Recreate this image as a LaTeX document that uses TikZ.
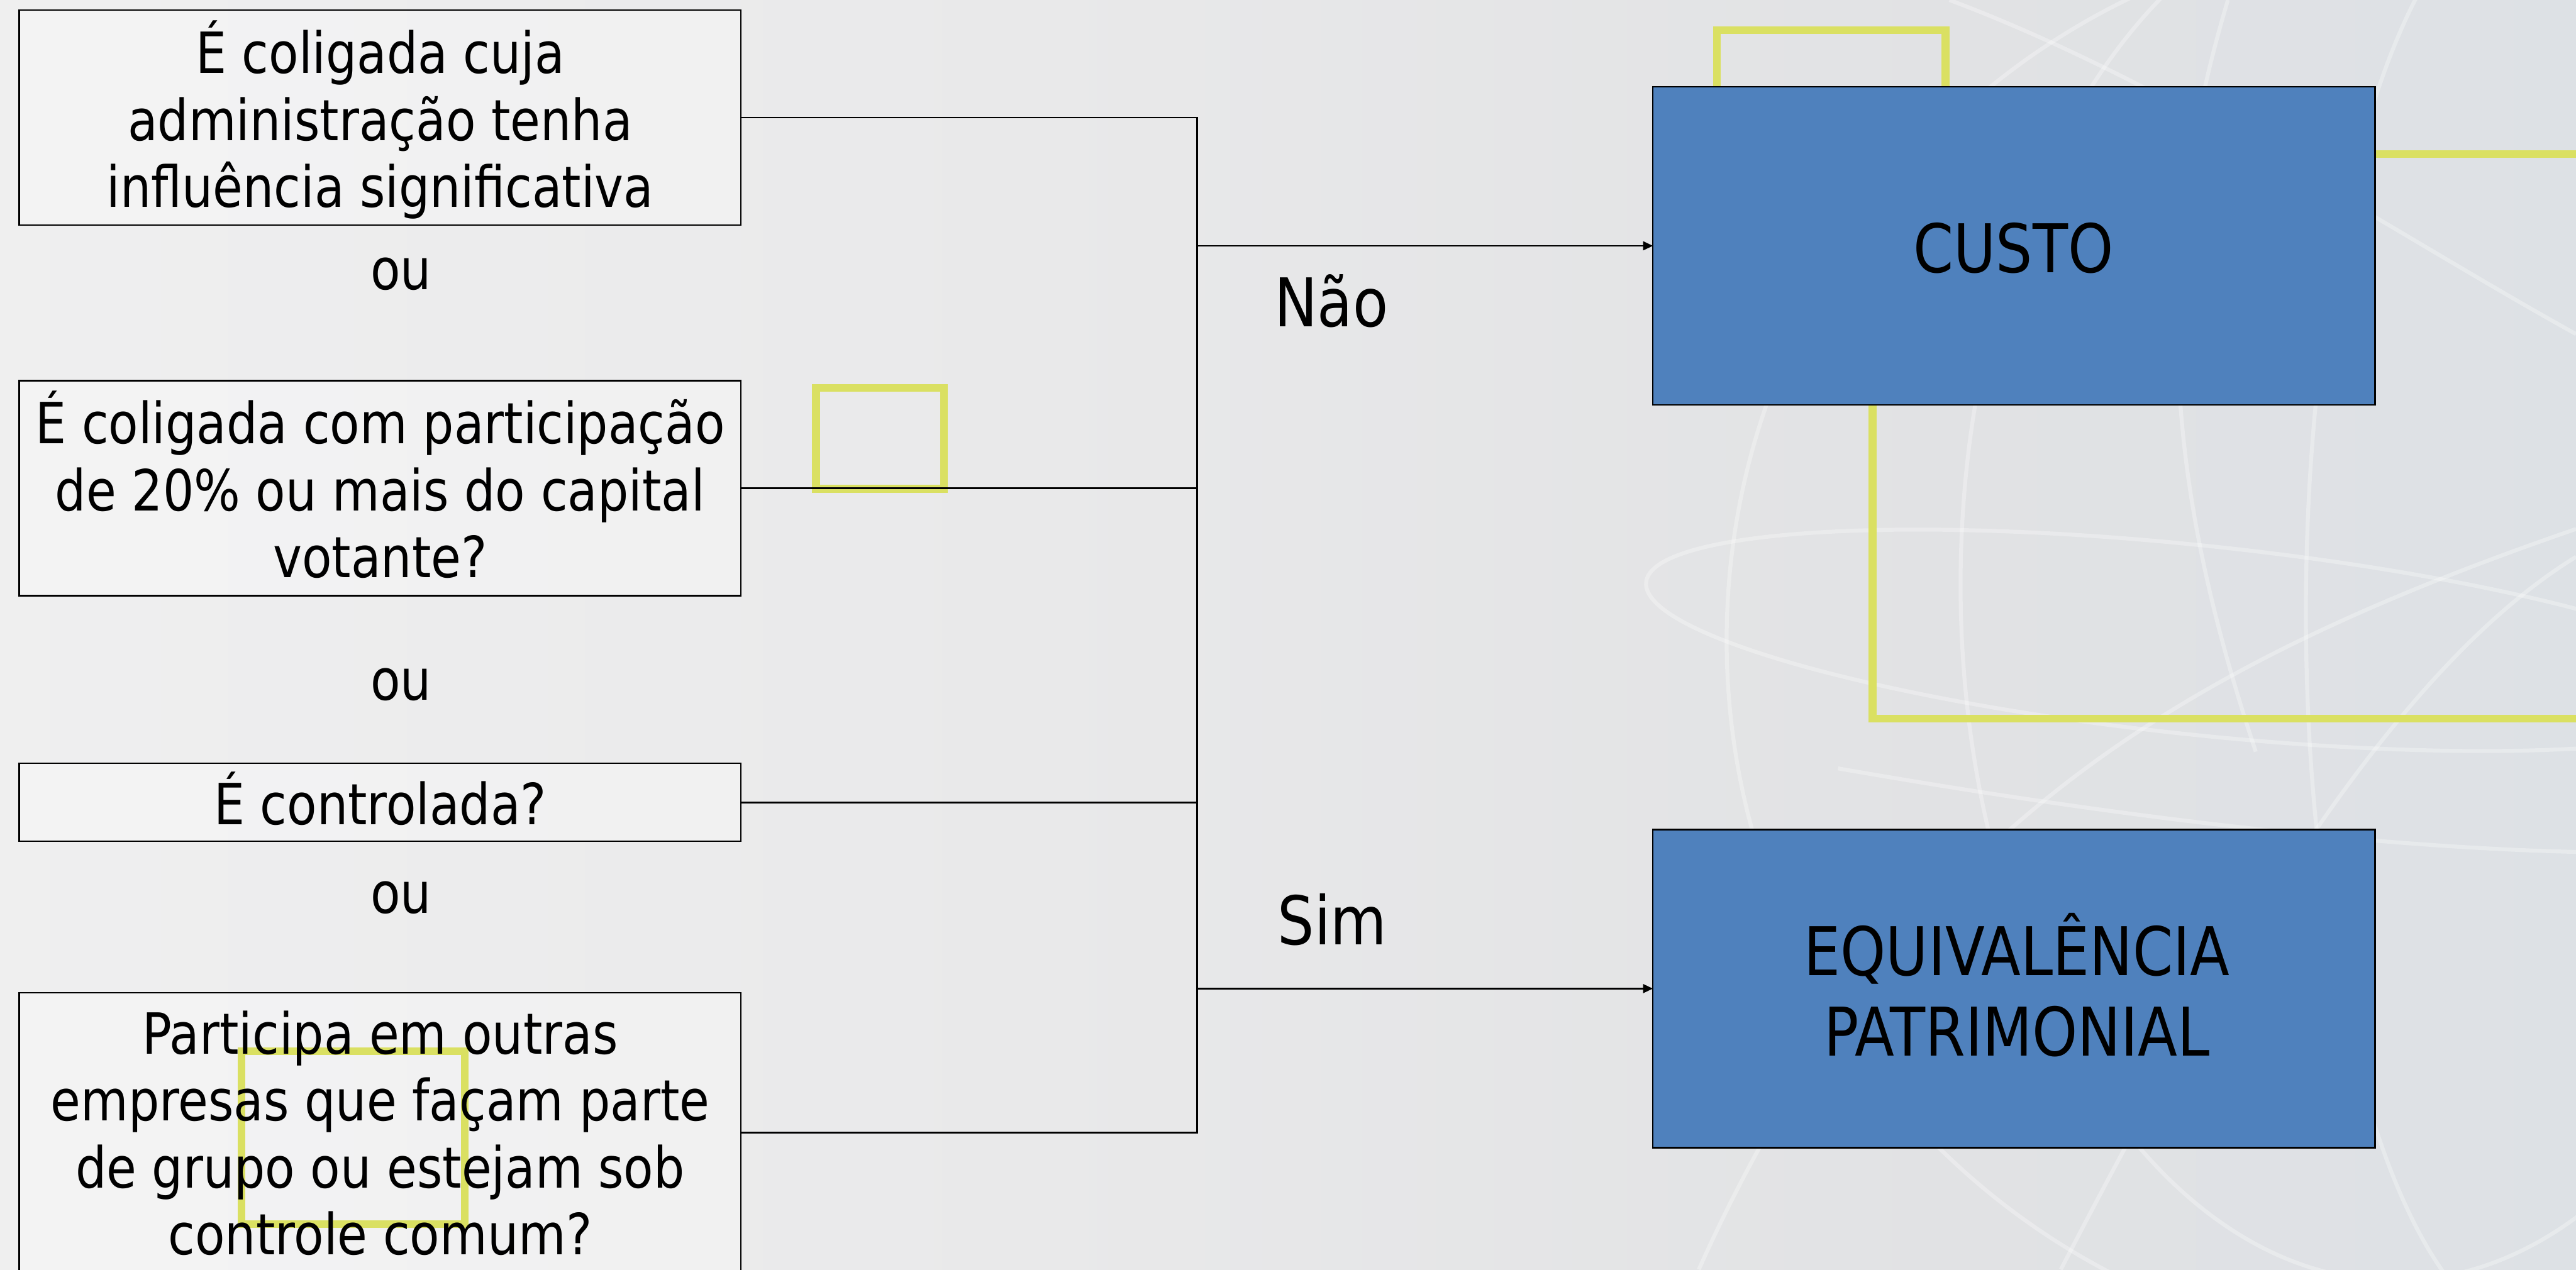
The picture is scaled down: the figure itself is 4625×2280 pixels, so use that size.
\documentclass[tikz,border=0pt]{standalone}
\usepackage{fontspec}
\setmainfont{DejaVu Sans}[FakeStretch=0.86]
\usetikzlibrary{arrows.meta}
\definecolor{ylw}{RGB}{218,224,98}
\definecolor{bluebox}{RGB}{79,129,189}
\definecolor{bgA}{RGB}{246,246,246}
\definecolor{bgB}{RGB}{233,233,234}
\definecolor{bgC}{RGB}{225,226,228}
\definecolor{bgD}{RGB}{213,222,232}
\pgfdeclarehorizontalshading{bgshade}{100bp}{color(0bp)=(bgA); color(45bp)=(bgB); color(63bp)=(bgC); color(100bp)=(bgD)}
\newcommand{\lstrut}{\rule[-7pt]{0pt}{34pt}}
\newcommand{\bstrut}{\rule[-8pt]{0pt}{40pt}}
\tikzset{
  qbox/.style={draw=black, line width=0.8pt, fill=white, fill opacity=0.3, rectangle, inner sep=0pt, outer sep=0pt, minimum width=12.95cm},
  rbox/.style={draw=black, line width=0.8pt, fill=bluebox, rectangle, inner sep=0pt, outer sep=0pt, minimum width=12.96cm, minimum height=5.71cm},
  qtext/.style={align=center, inner sep=0pt, font=\fontsize{29pt}{34.2pt}\selectfont},
  btext/.style={align=center, inner sep=0pt, font=\fontsize{34.3pt}{41pt}\selectfont},
  ylwline/.style={draw=ylw, line width=3.9pt},
  conn/.style={draw=black, line width=0.85pt},
  arr/.style={conn, -{Triangle[length=5pt,width=4.5pt]}},
  globe/.style={draw=white, opacity=0.3, line width=2pt}
}
\begin{document}
\begin{tikzpicture}[x=0.01cm, y=-0.01cm]
\useasboundingbox (0,0) rectangle (4625,2280);
\clip (0,0) rectangle (4625,2280);
% background
\fill[shading=bgshade] (0,0) rectangle (4625,2280);
% globe lines
\draw[globe] (4380,1150) circle [radius=1280];
\draw[globe] (4300,1050) ellipse [x radius=780, y radius=1250];
\draw[globe] (4560,1100) ellipse [x radius=420, y radius=1300];
\draw[globe, rotate around={-6:(3950,1150)}] (3950,1150) ellipse [x radius=1000, y radius=170];
\draw[globe] (3050,2280) .. controls (3400,1500) and (3900,1200) .. (4625,950);
\draw[globe] (3500,0) .. controls (3900,150) and (4300,420) .. (4625,600);
\draw[globe] (3700,2280) .. controls (4000,1700) and (4300,1200) .. (4625,1000);
\draw[globe] (4000,0) .. controls (3850,500) and (3900,900) .. (4050,1350);
\draw[globe] (3300,1380) .. controls (3700,1450) and (4200,1520) .. (4625,1530);
% yellow decorative frames (behind boxes)
\draw[ylwline] (3083,420) -- (3083,54) -- (3493,54) -- (3493,420);
\draw[ylwline] (4700,277) -- (3362,277) -- (3362,1291) -- (4700,1291);
\draw[ylwline] (1465,697) rectangle (1695,878);
% question boxes
\node[qbox, minimum height=3.86cm] (b1) at (682.5,211) {};
\node[qbox, minimum height=3.86cm] (b2) at (682.5,877) {};
\node[qbox, minimum height=1.40cm] (b3) at (682.5,1441) {};
\node[qbox, minimum height=5.03cm] (b4) at (682.5,2034.5) {};
\draw[ylwline] (434,1888) rectangle (834,2198);
% result boxes
\node[rbox] (custo) at (3616,441.5) {};
\node[rbox] (equiv) at (3616,1775.5) {};
% connectors
\coordinate (sp) at (2149,0);
\draw[conn] (b1.east) -- (b1.east -| sp) -- (b4.east -| sp) -- (b4.east);
\draw[conn] (b2.east) -- (b2.east -| sp);
\draw[conn] (b3.east) -- (b3.east -| sp);
\draw[arr] (custo.west -| sp) -- (custo.west);
\draw[arr] (equiv.west -| sp) -- (equiv.west);
% texts
\node[qtext] (t1) at (682.5,216.9) {\lstrut É coligada cuja\\\lstrut administração tenha\\\lstrut influência significativa};
\node[qtext] (t2) at (682.5,881.9) {\lstrut É coligada com participação\\\lstrut de 20\% ou mais do capital\\\lstrut votante?};
\node[qtext] (t3) at (682.5,1445.9) {\lstrut É controlada?};
\node[qtext] (t4) at (682.5,2037.9) {\lstrut Participa em outras\\\lstrut empresas que façam parte\\\lstrut de grupo ou estejam sob\\\lstrut controle comum?};
\node[qtext, anchor=base] (ou1) at (720,520) {ou};
\node[qtext, anchor=base] (ou2) at (720,1257) {ou};
\node[qtext, anchor=base] (ou3) at (720,1640) {ou};
\node[btext, anchor=base] (nao) at (2390,587) {Não};
\node[btext, anchor=base] (sim) at (2392,1697) {Sim};
\node[btext, anchor=base] (tcusto) at (3615,489) {CUSTO};
\node[btext] (tequiv) at (3621,1781.8) {\bstrut EQUIVALÊNCIA\\\bstrut PATRIMONIAL};
\end{tikzpicture}
\end{document}
